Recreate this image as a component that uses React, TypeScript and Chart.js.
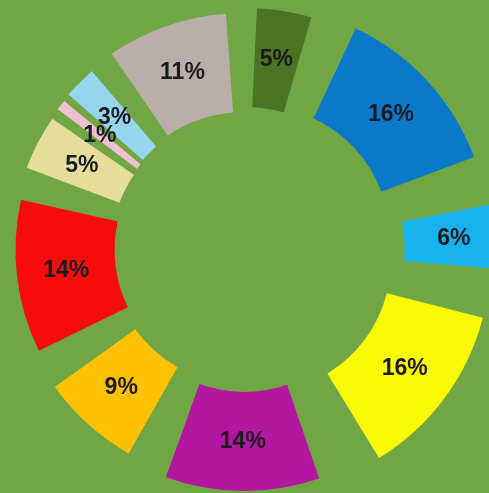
import React, { useEffect, useRef } from "react";
import { Chart, registerables } from "chart.js";

Chart.register(...registerables);

// Slice values (percent), clockwise from the top
const sliceValues: number[] = [5, 16, 6, 16, 14, 9, 14, 5, 1, 3, 11];
const sliceLabels: string[] = ["5%", "16%", "6%", "16%", "14%", "9%", "14%", "5%", "1%", "3%", "11%"];
const sliceColors: string[] = [
  "#4a7324", "#0b79c9", "#16b2ee", "#fafa06", "#b3169f", "#fdc003",
  "#f80b0b", "#e6dc9c", "#f1bfd2", "#96d5ec", "#b9aeaa",
];
// how far each slice is pulled out of the ring
const sliceOffsets: number[] = [31, 69, 74, 69, 39, 14, 0, 9, 10, 13, 24];

const BG = "#70a744";
const SPACING = 74;

const labelPlugin = {
  id: "sliceLabels",
  afterDatasetsDraw(chart: any) {
    const ctx = chart.ctx as CanvasRenderingContext2D;
    const meta = chart.getDatasetMeta(0);
    ctx.save();
    ctx.font = "bold 23px 'Liberation Sans', Arial, sans-serif";
    ctx.textAlign = "center";
    ctx.textBaseline = "middle";
    ctx.fillStyle = "#1b1b22";
    meta.data.forEach((arc: any, i: number) => {
      const p = arc.getProps(
        ["x", "y", "startAngle", "endAngle", "innerRadius", "outerRadius", "circumference"],
        true
      );
      const mid = (p.startAngle + p.endAngle) / 2;
      const t = (arc.options.offset || 0) / 4;
      const s = (arc.options.spacing || 0) / 2;
      const fix = 1 - Math.sin(Math.min(Math.PI, p.circumference));
      const r = (p.innerRadius + p.outerRadius) / 2 + s + t * (1 + fix);
      ctx.fillText(sliceLabels[i], p.x + Math.cos(mid) * r, p.y + Math.sin(mid) * r);
    });
    ctx.restore();
  },
};

export default function App() {
  const ref = useRef<HTMLCanvasElement | null>(null);
  useEffect(() => {
    if (!ref.current) return;
    const chart = new Chart(ref.current, {
      type: "doughnut",
      data: {
        labels: sliceLabels,
        datasets: [
          {
            data: sliceValues,
            backgroundColor: sliceColors,
            borderWidth: 0,
            spacing: SPACING,
            offset: sliceOffsets,
            hoverOffset: 0,
          } as any,
        ],
      },
      options: {
        responsive: false,
        animation: false,
        events: [],
        radius: 192,
        cutout: "48.4%",
        rotation: 0.5,
        layout: { padding: { top: 7, left: 0, right: 0, bottom: 0 } },
        plugins: {
          legend: { display: false },
          tooltip: { enabled: false },
        },
      } as any,
      plugins: [labelPlugin],
    });
    return () => chart.destroy();
  }, []);
  return (
    <div
      style={{
        position: "fixed",
        left: 0,
        top: 0,
        width: 489,
        height: 493,
        background: BG,
        overflow: "hidden",
      }}
    >
      <canvas ref={ref} width={489} height={493} style={{ display: "block" }} />
    </div>
  );
}
